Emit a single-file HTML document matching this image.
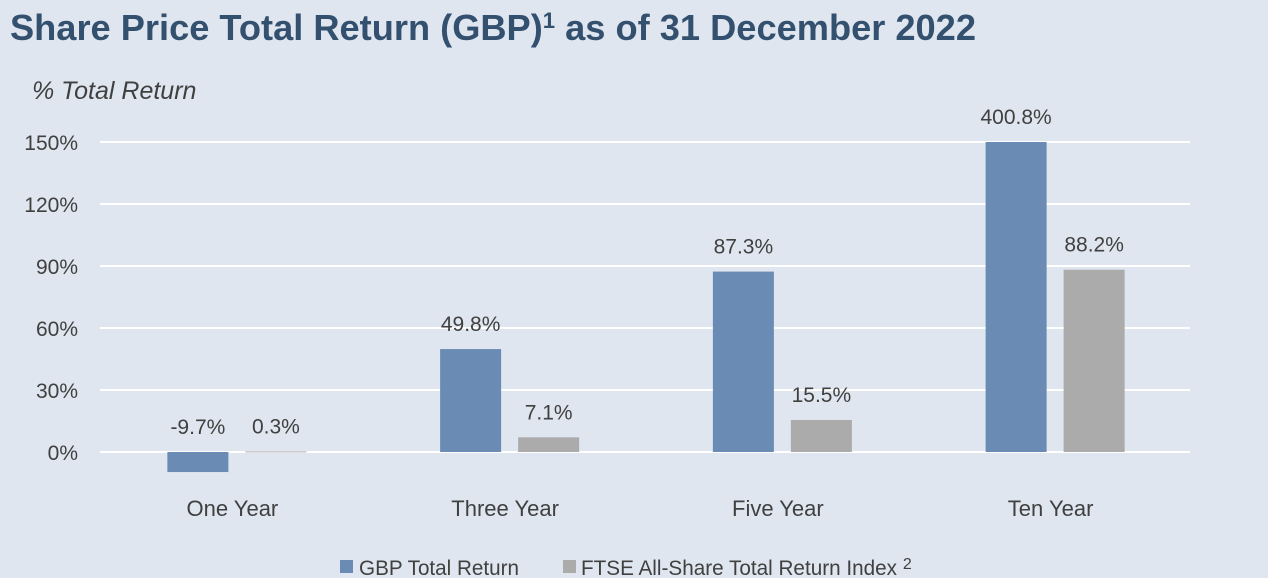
<!DOCTYPE html>
<html><head><meta charset="utf-8"><style>
body{margin:0;background:#dfe6ef;width:1268px;height:578px;overflow:hidden}
svg{display:block;font-family:"Liberation Sans",Arial,sans-serif}
</style></head><body>
<svg id="c" width="1268" height="578">
<rect width="1268" height="578" fill="#dfe6ef"/>
<text x="10" y="40" font-size="36" font-weight="bold" fill="#34506f" textLength="966" lengthAdjust="spacingAndGlyphs">Share Price Total Return (GBP)<tspan font-size="22" dy="-12">1</tspan><tspan dy="12"> as of 31 December 2022</tspan></text>
<text x="32" y="99" font-size="25" font-style="italic" fill="#404040">% Total Return</text>
<g id="grid"></g><g id="bars"></g>
<g>
<rect x="340" y="560" width="13" height="13" fill="#6a8bb3"/>
<text x="359" y="575" font-size="21" fill="#404040" textLength="160" lengthAdjust="spacingAndGlyphs">GBP Total Return</text>
<rect x="563" y="560" width="13" height="13" fill="#ababab"/>
<text x="581" y="575" font-size="21" fill="#404040"><tspan textLength="316" lengthAdjust="spacingAndGlyphs">FTSE All-Share Total Return Index</tspan> <tspan font-size="16" dy="-6">2</tspan></text>
</g>
</svg>
<script>
const categories=["One Year","Three Year","Five Year","Ten Year"];
const gbpValues=[-9.7,49.8,87.3,400.8];
const ftseValues=[0.3,7.1,15.5,88.2];
const yTicks=[0,30,60,90,120,150];
const NS="http://www.w3.org/2000/svg";
const x0=96,x1=1187,gridEnd=1190,y0=452,pxPer=310/150,yMax=150;
const y=v=>y0-Math.min(v,yMax)*pxPer;
const band=(x1-x0)/categories.length;
const cx=i=>x0+band*(i+0.5);
function mk(t,a,p){const e=document.createElementNS(NS,t);for(const k in a)e.setAttribute(k,a[k]);p.appendChild(e);return e;}
const grid=document.getElementById('grid'),bars=document.getElementById('bars');
yTicks.forEach(t=>{
 const l=mk('line',{x1:100,x2:gridEnd,y1:y(t),y2:y(t),stroke:'#ffffff','stroke-width':2},grid);
 
 
 const tx=mk('text',{x:78,y:y(t)+8,'font-size':21,fill:'#404040','text-anchor':'end'},grid);
 tx.textContent=t+'%';
 
 
});
const series=[{v:gbpValues,c:'#6a8bb3',off:-35,n:'gbp'},{v:ftseValues,c:'#ababab',off:43,n:'ftse'}];
categories.forEach((cat,i)=>{
 series.forEach(s=>{
  const v=s.v[i],bx=cx(i)+s.off-30;
  const top=Math.min(y(v),y0),h=Math.max(Math.abs(y(v)-y0),1);
  const r=mk('rect',{x:bx,y:top,width:61,height:h,fill:s.c},bars);
  
  
  const ly=(v<0?y0:top)-18;
  const t=mk('text',{x:bx+30.5,y:ly,'font-size':21,fill:'#404040','text-anchor':'middle'},bars);
  t.textContent=v.toFixed(1)+'%';
  
  
 });
 const ct=mk('text',{x:cx(i),y:516,'font-size':22,fill:'#404040','text-anchor':'middle'},bars);
 ct.textContent=cat;
 
 
});
</script>
</body></html>
